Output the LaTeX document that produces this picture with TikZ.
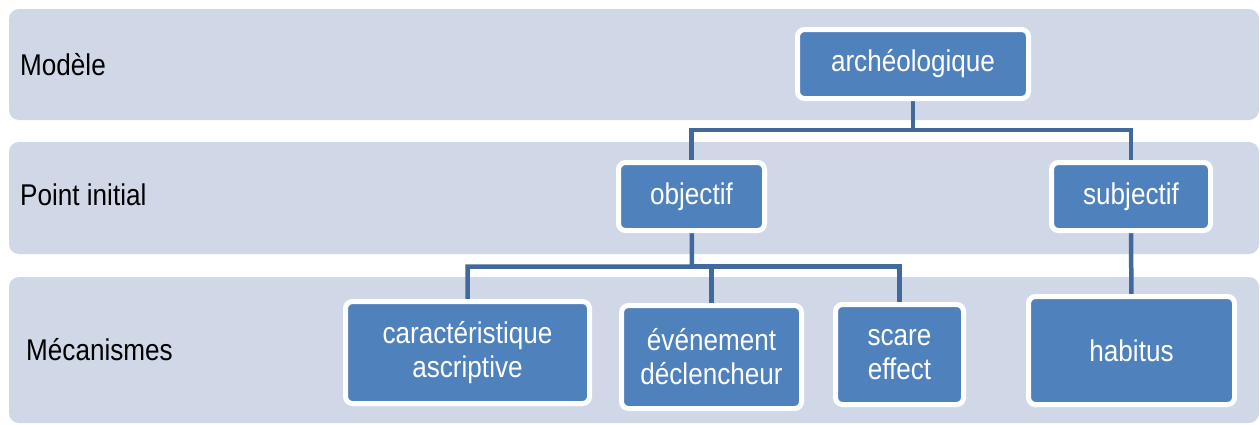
\documentclass[tikz,border=0pt]{standalone}
\usepackage{fontspec}
\setmainfont{Liberation Sans}[FakeStretch=0.87]
\definecolor{bandfill}{HTML}{D0D8E8}
\definecolor{nodefill}{HTML}{4F81BD}
\definecolor{linecol}{HTML}{41699C}
\pgfdeclarelayer{back}
\pgfdeclarelayer{conn}
\pgfsetlayers{back,conn,main}
\tikzset{
  band/.style={fill=bandfill, draw=none, rounded corners=10pt},
  box/.style={fill=nodefill, draw=white, line width=5pt, rounded corners=7pt,
    text=white, align=center, inner sep=0pt,
    font=\fontsize{30}{34}\selectfont},
  lbl/.style={anchor=base west, inner sep=0pt, text=black,
    font=\fontsize{30}{34}\selectfont},
  conn/.style={draw=linecol, line width=4.5pt}
}
\begin{document}
\begin{tikzpicture}[x=1pt,y=-1pt]
\useasboundingbox (0,0) rectangle (1260,424);
\begin{pgfonlayer}{back}
\fill[white] (0,0) rectangle (1260,424);
\path[band] (9,9) rectangle (1259,120);
\path[band] (9,142) rectangle (1259,254);
\path[band] (9,277) rectangle (1259,423);
\end{pgfonlayer}

\node[lbl] (lm) at (20,75) {Modèle};
\node[lbl] (lp) at (20,205) {Point initial};
\node[lbl] (lme) at (26,360) {Mécanismes};

\node[box, minimum width=231pt, minimum height=69pt] (arch) at (913,64) {archéologique};
\node[box, minimum width=146pt, minimum height=68pt] (obj) at (691.5,196.5) {objectif};
\node[box, minimum width=159pt, minimum height=68pt] (sub) at (1131,196.5) {subjectif};
\node[box, minimum width=244pt, minimum height=102pt] (car) at (467.5,352.5) {caractéristique\\ascriptive};
\node[box, minimum width=180pt, minimum height=103pt] (eve) at (711.5,357) {événement\\déclencheur};
\node[box, minimum width=128pt, minimum height=100pt] (sca) at (899.5,354.5) {scare\\effect};
\node[box, minimum width=206pt, minimum height=108pt] (hab) at (1131.5,350.5) {habitus};

\begin{pgfonlayer}{conn}
\draw[conn] (arch.center) -- (913,130) -| (obj.center);
\draw[conn] (913,130) -| (sub.center);
\draw[conn] (obj.center) -- (692,266.5) -| (car.center);
\draw[conn] (692,266.5) -| (eve.center);
\draw[conn] (692,266.5) -| (sca.center);
\draw[conn] (sub.center) -- (hab.center);
\end{pgfonlayer}
\end{tikzpicture}
\end{document}
